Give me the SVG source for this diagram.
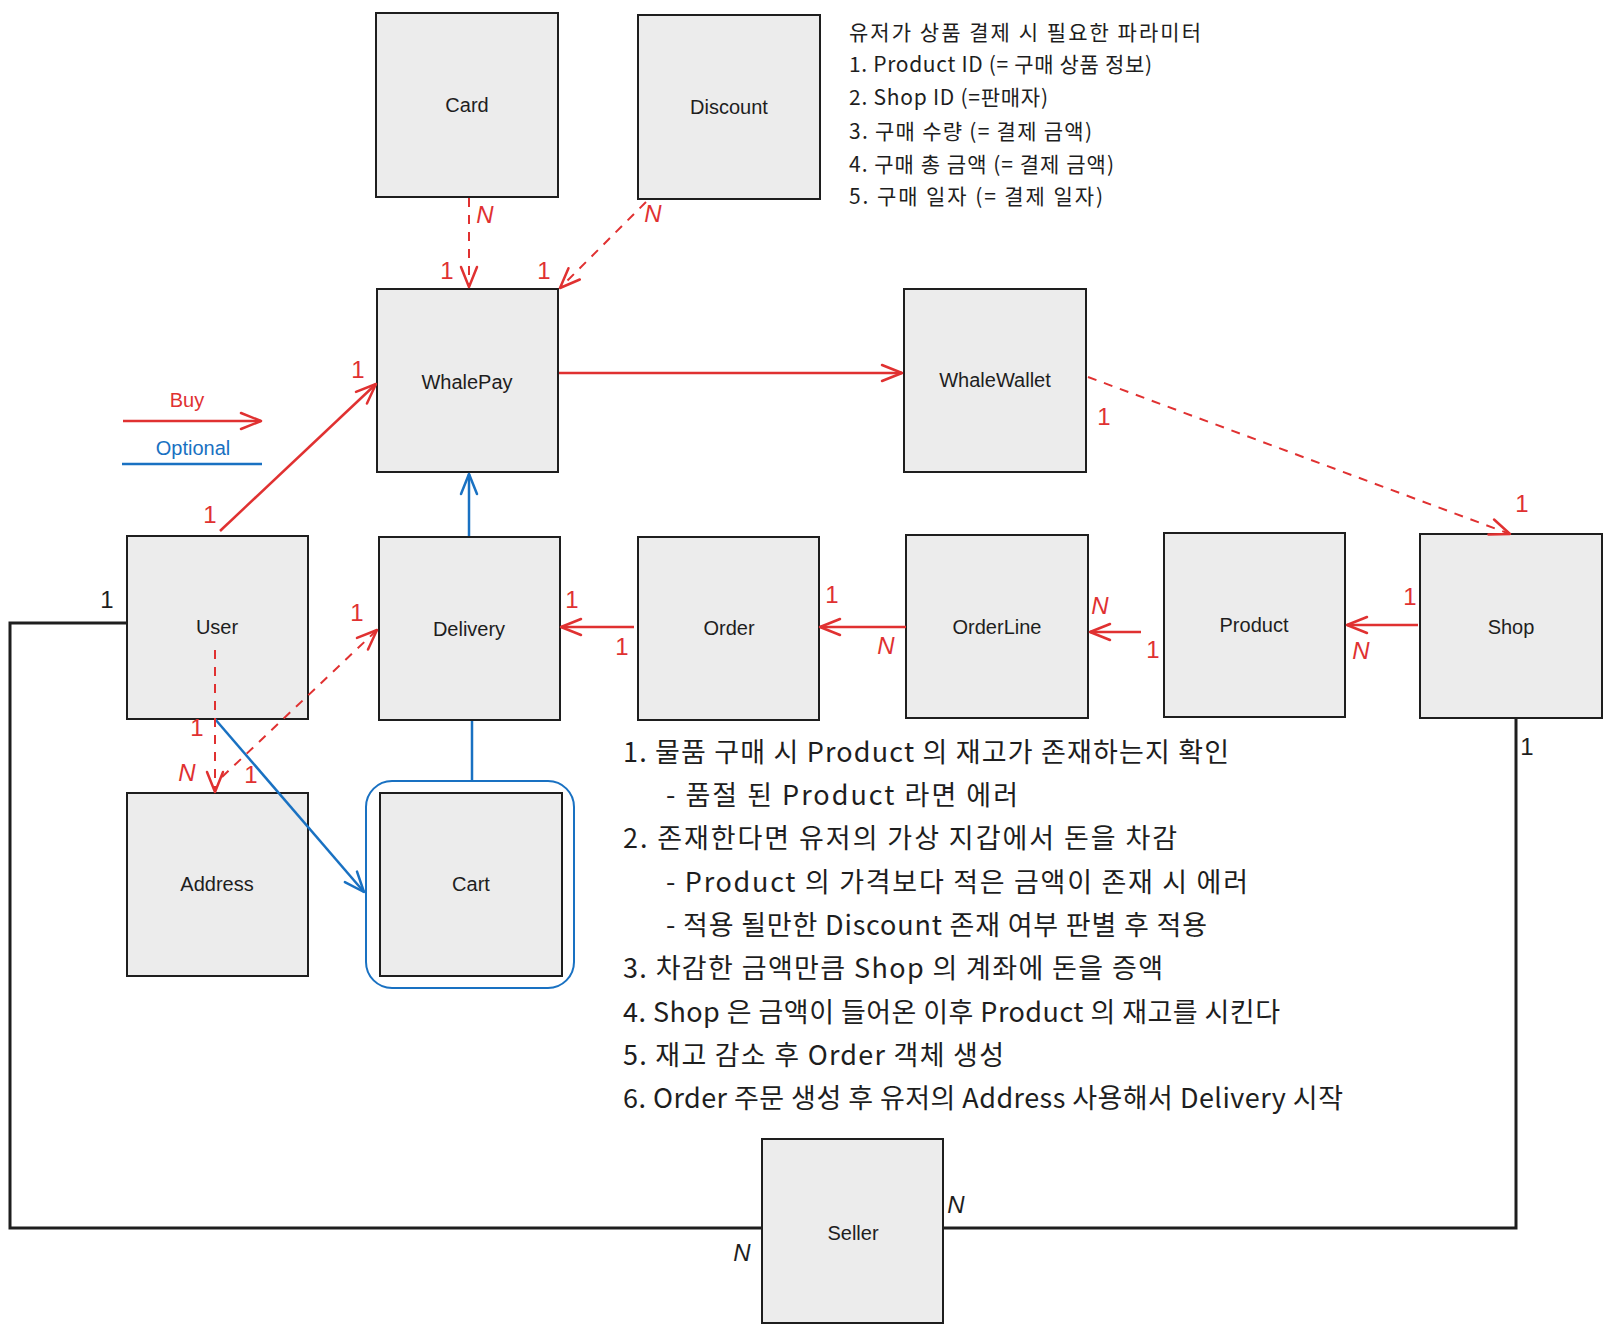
<svg xmlns="http://www.w3.org/2000/svg" width="1611" height="1333" viewBox="0 0 1611 1333">
<style>
.node rect{fill:#ececec;stroke:#1e1e1e;stroke-width:2}
.lbl{font-family:"Liberation Sans","Noto Sans CJK KR",sans-serif;font-size:20px;fill:#1e1e1e;text-anchor:middle}
.red{stroke:#e03131;fill:none;stroke-width:2.5}
.dash{stroke-dasharray:9 8;stroke-width:2}
.blue{stroke:#1971c2;fill:none;stroke-width:2.5}
.blk{stroke:#1e1e1e;fill:none;stroke-width:3}
.card{font-family:"Liberation Sans",sans-serif;font-size:24px;text-anchor:middle;fill:#e03131}
.cardk{font-family:"Liberation Sans",sans-serif;font-size:24px;text-anchor:middle;fill:#1e1e1e}
.it{font-style:italic}
.note{font-family:"Noto Sans CJK KR","Liberation Sans",sans-serif;fill:#1e1e1e}
.n1{font-size:21px}
.n2{font-size:27px}
</style>
<defs>
<marker id="arR" viewBox="0 0 24 20" refX="22" refY="10" markerWidth="24" markerHeight="20" markerUnits="userSpaceOnUse" orient="auto">
<path d="M2,2 L22,10 L2,18" fill="none" stroke="#e03131" stroke-width="2.5" stroke-dasharray="none" stroke-linecap="round" stroke-linejoin="round"/>
</marker>
<marker id="arB" viewBox="0 0 24 20" refX="22" refY="10" markerWidth="24" markerHeight="20" markerUnits="userSpaceOnUse" orient="auto">
<path d="M2,2 L22,10 L2,18" fill="none" stroke="#1971c2" stroke-width="2.5" stroke-linecap="round" stroke-linejoin="round"/>
</marker>
</defs>
<rect width="1611" height="1333" fill="#ffffff"/>

<g id="card" class="node"><rect x="376" y="13" width="182" height="184"/><text class="lbl" x="467" y="112">Card</text></g>
<g id="discount" class="node"><rect x="638" y="15" width="182" height="184"/><text class="lbl" x="729" y="114">Discount</text></g>
<g id="whalepay" class="node"><rect x="377" y="289" width="181" height="183"/><text class="lbl" x="467" y="389">WhalePay</text></g>
<g id="whalewallet" class="node"><rect x="904" y="289" width="182" height="183"/><text class="lbl" x="995" y="387">WhaleWallet</text></g>
<g id="user" class="node"><rect x="127" y="536" width="181" height="183"/><text class="lbl" x="217" y="634">User</text></g>
<g id="delivery" class="node"><rect x="379" y="537" width="181" height="183"/><text class="lbl" x="469" y="636">Delivery</text></g>
<g id="order" class="node"><rect x="638" y="537" width="181" height="183"/><text class="lbl" x="729" y="635">Order</text></g>
<g id="orderline" class="node"><rect x="906" y="535" width="182" height="183"/><text class="lbl" x="997" y="634">OrderLine</text></g>
<g id="product" class="node"><rect x="1164" y="533" width="181" height="184"/><text class="lbl" x="1254" y="632">Product</text></g>
<g id="shop" class="node"><rect x="1420" y="534" width="182" height="184"/><text class="lbl" x="1511" y="634">Shop</text></g>
<g id="address" class="node"><rect x="127" y="793" width="181" height="183"/><text class="lbl" x="217" y="891">Address</text></g>
<g id="cart" class="node"><rect x="380" y="793" width="182" height="183"/><text class="lbl" x="471" y="891">Cart</text></g>
<g id="seller" class="node"><rect x="762" y="1139" width="181" height="184"/><text class="lbl" x="853" y="1240">Seller</text></g>

<g id="connectors">
<line class="red dash" x1="469" y1="198" x2="469" y2="287" marker-end="url(#arR)"/>
<line class="red dash" x1="646" y1="202" x2="560" y2="288" marker-end="url(#arR)"/>
<line class="red" stroke-width="3" x1="220" y1="531" x2="376" y2="384" marker-end="url(#arR)"/>
<line class="red" stroke-width="3" x1="559" y1="373" x2="902" y2="373" marker-end="url(#arR)"/>
<line class="red dash" x1="1088" y1="377" x2="1510" y2="534" marker-end="url(#arR)"/>
<line class="blue" x1="469" y1="536" x2="469" y2="474" marker-end="url(#arB)"/>
<line class="blue" x1="472" y1="721" x2="472" y2="781"/>
<line class="blue" stroke-width="2" x1="215" y1="719" x2="364" y2="892" marker-end="url(#arB)"/>
<line class="red dash" x1="215" y1="650" x2="215" y2="792" marker-end="url(#arR)"/>
<line class="red dash" x1="222" y1="777" x2="377" y2="630" marker-end="url(#arR)"/>
<line class="red" x1="634" y1="627" x2="561" y2="627" marker-end="url(#arR)"/>
<line class="red" x1="906" y1="627" x2="820" y2="627" marker-end="url(#arR)"/>
<line class="red" x1="1141" y1="632" x2="1090" y2="632" marker-end="url(#arR)"/>
<line class="red" x1="1418" y1="625" x2="1347" y2="625" marker-end="url(#arR)"/>
<polyline class="blk" points="127,623 10,623 10,1228 762,1228"/>
<polyline class="blk" points="1516,718 1516,1228 943,1228"/>
<rect x="366" y="781" width="208" height="207" rx="26" ry="26" fill="none" stroke="#1971c2" stroke-width="2"/>
</g>

<g id="legend">
<line class="red" stroke-width="3" x1="123" y1="421" x2="261" y2="421" marker-end="url(#arR)"/>
<text x="187" y="407" class="lbl" style="fill:#e03131">Buy</text>
<line class="blue" stroke-width="3" x1="122" y1="464" x2="262" y2="464"/>
<text x="193" y="455" class="lbl" style="fill:#1971c2">Optional</text>
</g>

<g id="cardinalities">
<text class="card it" x="485" y="223">N</text>
<text class="card" x="447" y="279">1</text>
<text class="card it" x="653" y="222">N</text>
<text class="card" x="544" y="279">1</text>
<text class="card" x="358" y="378">1</text>
<text class="card" x="210" y="523">1</text>
<text class="card" x="1104" y="425">1</text>
<text class="card" x="1522" y="512">1</text>
<text class="card" x="357" y="621">1</text>
<text class="card" x="251" y="783">1</text>
<text class="card it" x="187" y="781">N</text>
<text class="card" x="197" y="736">1</text>
<text class="card" x="572" y="608">1</text>
<text class="card" x="622" y="655">1</text>
<text class="card" x="832" y="603">1</text>
<text class="card it" x="886" y="654">N</text>
<text class="card it" x="1100" y="614">N</text>
<text class="card" x="1153" y="658">1</text>
<text class="card" x="1410" y="605">1</text>
<text class="card it" x="1361" y="659">N</text>
<text class="cardk" x="107" y="608">1</text>
<text class="cardk" x="1527" y="755">1</text>
<text class="cardk it" x="956" y="1213">N</text>
<text class="cardk it" x="742" y="1261">N</text>
</g>

<g id="params-note" class="note n1">
<text x="849" y="40" textLength="352" lengthAdjust="spacing">유저가 상품 결제 시 필요한 파라미터</text>
<text x="849" y="72" textLength="303" lengthAdjust="spacing">1. Product ID (= 구매 상품 정보)</text>
<text x="849" y="105" textLength="199" lengthAdjust="spacing">2. Shop ID (=판매자)</text>
<text x="849" y="139" textLength="243" lengthAdjust="spacing">3. 구매 수량 (= 결제 금액)</text>
<text x="849" y="172" textLength="265" lengthAdjust="spacing">4. 구매 총 금액 (= 결제 금액)</text>
<text x="849" y="204" textLength="254" lengthAdjust="spacing">5. 구매 일자 (= 결제 일자)</text>
</g>

<g id="process-note" class="note n2">
<text x="623" y="762" textLength="606" lengthAdjust="spacing">1. 물품 구매 시 Product 의 재고가 존재하는지 확인</text>
<text x="666" y="805" textLength="352" lengthAdjust="spacing">- 품절 된 Product 라면 에러</text>
<text x="623" y="848" textLength="554" lengthAdjust="spacing">2. 존재한다면 유저의 가상 지갑에서 돈을 차감</text>
<text x="666" y="892" textLength="582" lengthAdjust="spacing">- Product 의 가격보다 적은 금액이 존재 시 에러</text>
<text x="666" y="935" textLength="541" lengthAdjust="spacing">- 적용 될만한 Discount 존재 여부 판별 후 적용</text>
<text x="623" y="978" textLength="540" lengthAdjust="spacing">3. 차감한 금액만큼 Shop 의 계좌에 돈을 증액</text>
<text x="623" y="1022" textLength="657" lengthAdjust="spacing">4. Shop 은 금액이 들어온 이후 Product 의 재고를 시킨다</text>
<text x="623" y="1065" textLength="381" lengthAdjust="spacing">5. 재고 감소 후 Order 객체 생성</text>
<text x="623" y="1108" textLength="720" lengthAdjust="spacing">6. Order 주문 생성 후 유저의 Address 사용해서 Delivery 시작</text>
</g>
</svg>
